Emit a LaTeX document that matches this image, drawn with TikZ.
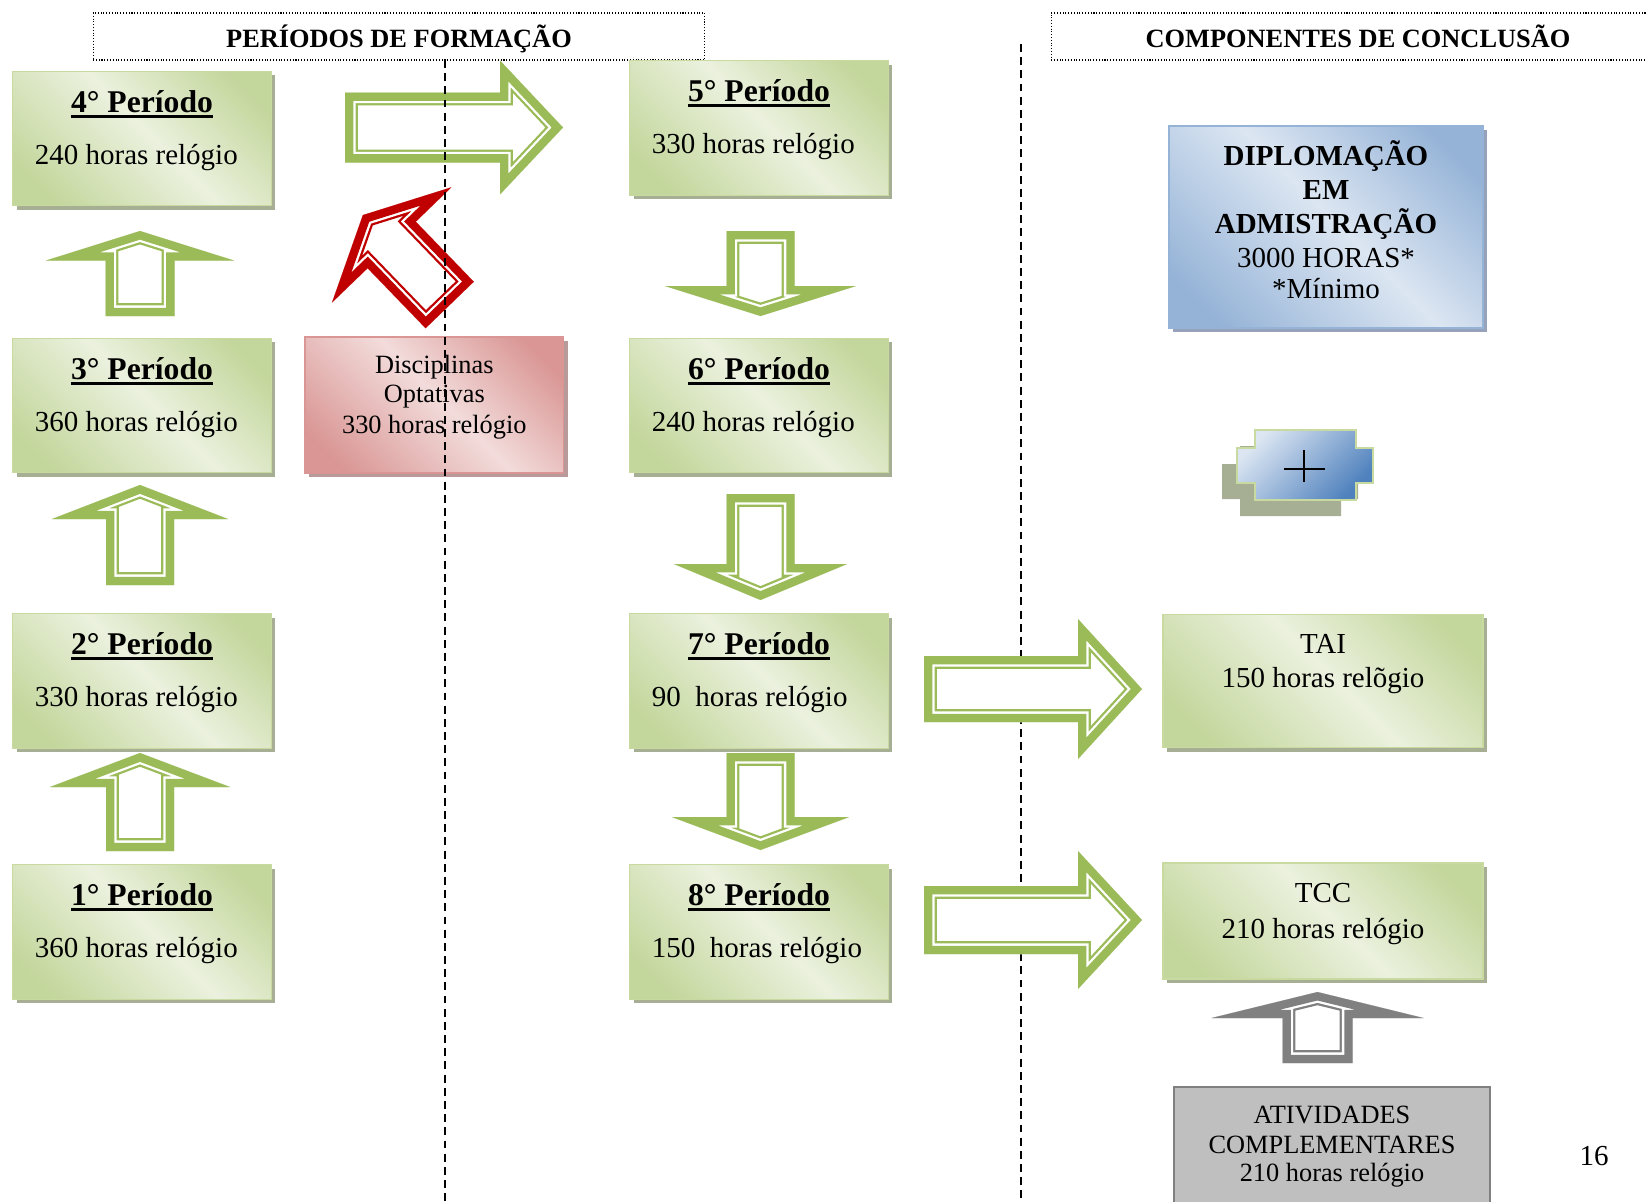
\documentclass[tikz,border=0pt]{standalone}
\usepackage{fontspec}
\setmainfont{Liberation Serif}
\usetikzlibrary{calc,shadows}

\definecolor{verdeseta}{RGB}{155,187,89}
\definecolor{verdeescuro}{RGB}{195,214,155}
\definecolor{verdeclaro}{RGB}{235,241,222}
\definecolor{verdeborda}{RGB}{200,218,160}
\definecolor{verdesombra}{RGB}{166,175,148}
\definecolor{rosaescuro}{RGB}{217,150,148}
\definecolor{rosaclaro}{RGB}{242,220,219}
\definecolor{rosasombra}{RGB}{184,154,154}
\definecolor{azulescuro}{RGB}{149,179,215}
\definecolor{azulclaro}{RGB}{220,230,242}
\definecolor{azulsombra}{RGB}{150,162,186}
\definecolor{azulforte}{RGB}{79,129,189}
\definecolor{vermelhoseta}{RGB}{192,0,0}
\definecolor{cinzaseta}{RGB}{128,128,128}
\definecolor{cinzacaixa}{RGB}{191,191,191}

\pgfdeclarehorizontalshading{verdecaixa}{100bp}{color(0bp)=(verdeescuro); color(22bp)=(verdeescuro); color(52bp)=(verdeclaro); color(78bp)=(verdeescuro); color(100bp)=(verdeescuro)}
\pgfdeclarehorizontalshading{rosacaixa}{100bp}{color(0bp)=(rosaescuro); color(22bp)=(rosaescuro); color(52bp)=(rosaclaro); color(78bp)=(rosaescuro); color(100bp)=(rosaescuro)}
\pgfdeclarehorizontalshading{azulcaixa}{100bp}{color(0bp)=(azulescuro); color(22bp)=(azulescuro); color(52bp)=(azulclaro); color(78bp)=(azulescuro); color(100bp)=(azulescuro)}

\newcommand{\sublinha}[1]{\setbox0=\hbox{#1}\rlap{\copy0}\rule[-3pt]{\wd0}{1.5pt}}

% seta vazada: cor, cauda, angulo, comprimento, cabeca, meia largura haste, meia largura cabeca
\newcommand{\blocoseta}[7]{%
  \begin{scope}[shift={(#2)}, rotate=#3]
    \def\contorno{(0,-#6) -- (#4-#5,-#6) -- (#4-#5,-#7) -- (#4,0) -- (#4-#5,#7) -- (#4-#5,#6) -- (0,#6) -- cycle}
    \begin{scope}
      \clip \contorno;
      \fill[white] \contorno;
      \draw[#1, line width=14.6pt] \contorno;
      \draw[white, line width=12pt] \contorno;
      \draw[#1, line width=9.4pt] \contorno;
    \end{scope}
  \end{scope}}

\tikzset{
  caixa/.style={minimum width=5.18cm, minimum height=2.69cm, inner sep=0pt, outer sep=0pt, line width=0.8pt},
  verde/.style={caixa, draw=verdeborda, shading=verdecaixa, shading angle=45,
    drop shadow={shadow xshift=0.08cm, shadow yshift=-0.08cm, fill=verdesombra, opacity=1}},
  rosa/.style={caixa, draw=rosaescuro, shading=rosacaixa, shading angle=45,
    drop shadow={shadow xshift=0.08cm, shadow yshift=-0.08cm, fill=rosasombra, opacity=1}},
  azul/.style={caixa, draw=azulescuro, shading=azulcaixa, shading angle=45,
    drop shadow={shadow xshift=0.08cm, shadow yshift=-0.08cm, fill=azulsombra, opacity=1}},
  cinza/.style={caixa, draw=cinzaseta, fill=cinzacaixa, line width=1.1pt},
  cabecalho/.style={draw, densely dotted, line width=0.6pt, minimum width=12.24cm, minimum height=0.94cm,
    text depth=0pt, font=\fontsize{15}{18}\selectfont\bfseries},
  titulo/.style={anchor=base, inner sep=0pt, font=\fontsize{18}{20}\selectfont\bfseries},
  horas/.style={anchor=base west, inner sep=0pt, font=\fontsize{16.5}{20}\selectfont},
  linha/.style={anchor=base, inner sep=0pt},
  tracejado/.style={dash pattern=on 4.5pt off 3pt, line width=0.8pt}
}

\begin{document}
\begin{tikzpicture}[x=0.02cm, y=-0.02cm]
\useasboundingbox (0,0) rectangle (1647,1201);

% cabecalhos
\node[cabecalho] (cab1) at (399,36.5) {PERÍODOS DE FORMAÇÃO};
\node[cabecalho, minimum width=12.28cm] (cab2) at (1358,36.5) {COMPONENTES DE CONCLUSÃO};

\draw[tracejado] (1021,44) -- (1021,1201);

% periodos
\foreach \n/\cx/\cy/\hrs in {1/142/932/{360 horas relógio}, 2/142/681/{330 horas relógio},
    3/142/405.5/{360 horas relógio}, 4/142/138.5/{240 horas relógio},
    5/759/128/{330 horas relógio}, 6/759/405.5/{240 horas relógio},
    7/759/681/{90~ horas relógio}, 8/759/932/{150~ horas relógio}}{
  \node[verde] (p\n) at (\cx,\cy) {};
  \node[titulo] (p\n-t) at ($(p\n.north)+(0,41)$) {\sublinha{\n{}° Período}};
  \node[horas] (p\n-h) at ($(p\n.north west)+(22,93)$) {\hrs};
}

% optativas
\node[rosa, minimum height=2.72cm] (opt) at (434.3,405) {};
\foreach \dy/\txt [count=\i] in {36/Disciplinas, 65/Optativas, 96/{330 horas relógio}}
  \node[linha, font=\fontsize{15}{18}\selectfont] (opt-\i) at ($(opt.north)+(0,\dy)$) {\txt};

% componentes de conclusao
\node[azul, minimum width=6.28cm, minimum height=4.04cm] (dip) at (1326,227) {};
\foreach \dy/\txt [count=\i] in {39/{\textbf{DIPLOMAÇÃO}}, 73/{\textbf{EM}}, 107/{\textbf{ADMISTRAÇÃO}},
    141/{3000 HORAS*}, 172/{*Mínimo}}
  \node[linha, font=\fontsize{16.5}{20}\selectfont] (dip-\i) at ($(dip.north)+(0,\dy)$) {\txt};

\node[verde, minimum width=6.4cm, minimum height=2.67cm] (tai) at (1323,681) {};
\foreach \dy/\txt [count=\i] in {39/TAI, 73/{150 horas relõgio}}
  \node[linha, font=\fontsize{16.5}{20}\selectfont] (tai-\i) at ($(tai.north)+(0,\dy)$) {\txt};

\node[verde, minimum width=6.4cm, minimum height=2.32cm] (tcc) at (1323,921) {};
\foreach \dy/\txt [count=\i] in {39/TCC, 75/{210 horas relógio}}
  \node[linha, font=\fontsize{16.5}{20}\selectfont] (tcc-\i) at ($(tcc.north)+(0,\dy)$) {\txt};

\node[cinza, minimum width=6.32cm, minimum height=2.46cm] (ativ) at (1332,1148.5) {};
\foreach \dy/\txt [count=\i] in {36/ATIVIDADES, 66/COMPLEMENTARES, 94/{210 horas relógio}}
  \node[linha, font=\fontsize{15}{18}\selectfont] (ativ-\i) at ($(ativ.north)+(0,\dy)$) {\txt};

% sinal de mais
\fill[verdesombra, shift={(-15,16)}] (1255,430) -- (1356,430) -- (1356,448) -- (1373,448) -- (1373,483)
  -- (1356,483) -- (1356,500) -- (1255,500) -- (1255,483) -- (1237,483) -- (1237,448) -- (1255,448) -- cycle;
\draw[verdeborda, line width=1pt, top color=azulclaro, bottom color=azulforte, shading angle=45]
  (1255,430) -- (1356,430) -- (1356,448) -- (1373,448) -- (1373,483) -- (1356,483) -- (1356,500)
  -- (1255,500) -- (1255,483) -- (1237,483) -- (1237,448) -- (1255,448) -- cycle;
\draw[line width=1.5pt] (1284,469) -- (1325,469) (1304,450) -- (1304,482);

% setas
\blocoseta{verdeseta}{140,316}{90}{85}{29.5}{34.5}{94}
\blocoseta{verdeseta}{140,585}{90}{100}{34}{34}{88}
\blocoseta{verdeseta}{140,851}{90}{98}{34}{34}{90}
\blocoseta{verdeseta}{760.5,231}{-90}{85}{30}{34}{95.6}
\blocoseta{verdeseta}{760.5,494}{-90}{106}{36}{34}{86.6}
\blocoseta{verdeseta}{760.5,753}{-90}{97}{33}{34}{88.7}
\blocoseta{verdeseta}{345,127.5}{0}{218}{63}{35}{67}
\blocoseta{verdeseta}{924,689}{0}{218}{64}{33}{70}
\blocoseta{verdeseta}{924,920}{0}{218}{64}{34}{69}
\blocoseta{vermelhoseta}{449.7,305}{134}{125}{41.5}{33.5}{83}
\blocoseta{cinzaseta}{1317.5,1063}{90}{71}{26}{35}{106}

\draw[tracejado] (445,60) -- (445,1201);

\node[font=\fontsize{16.5}{20}\selectfont, anchor=base] (pag) at (1594,1165) {16};
\end{tikzpicture}
\end{document}
